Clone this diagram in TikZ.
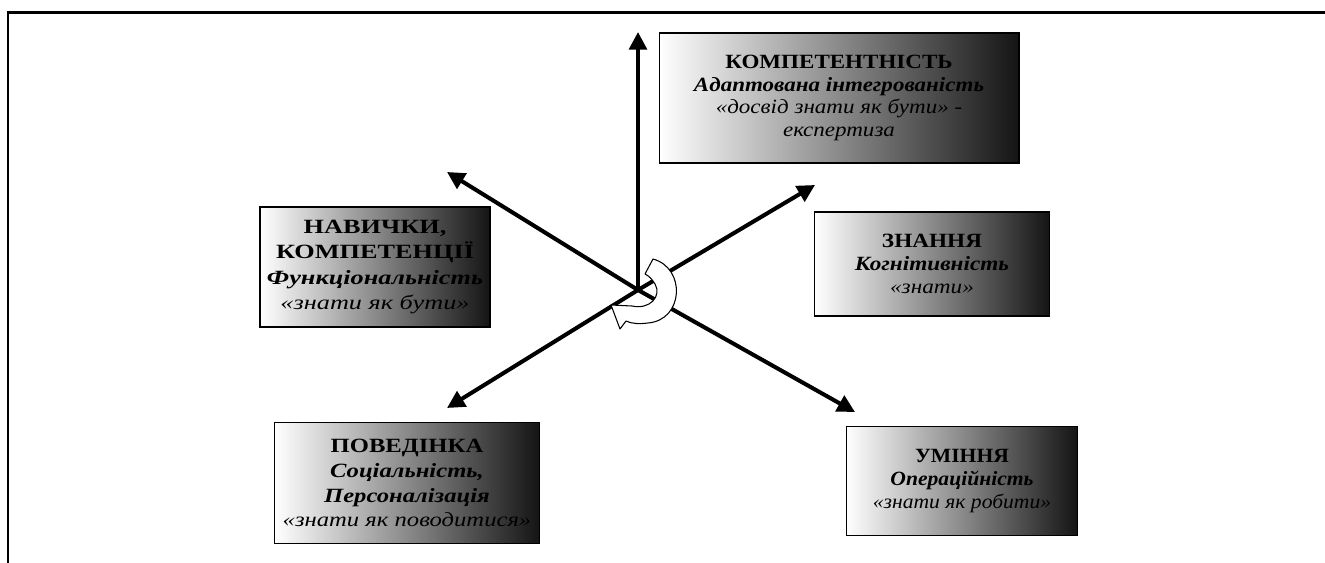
\documentclass[tikz,border=0pt]{standalone}
\usepackage{fontspec}
\setmainfont{Liberation Serif}
\usetikzlibrary{arrows.meta}
\newcommand\bxfont[2]{\fontsize{11.5}{#2}\selectfont\addfontfeatures{FakeStretch=#1}}
\begin{document}
\begin{tikzpicture}[x=0.02cm,y=-0.02cm,
		box/.style={draw,line width=0.6pt,left color=white,right color=black!92,align=center,inner sep=0pt},
		arr/.style={line width=2.3pt,-{Triangle[length=10pt,width=10pt]}}]
		\useasboundingbox (0,0) rectangle (1325,563);
		\draw[line width=1.7pt] (8,563) -- (8,12.5) -- (1325,12.5);
		% centre and arrow ends
		\coordinate (c) at (638,290);
		\coordinate (up) at (638,32);
		\coordinate (ul) at (447,172);
		\coordinate (ur) at (815,185);
		\coordinate (dl) at (447,408);
		\coordinate (dr) at (855,412);
		\foreach \t in {up,ul,ur,dl,dr}
			\draw[arr] (c) -- (\t);
		% boxes
		\node[box,font=\bxfont{1.14}{13},minimum width=7.2cm,minimum height=2.6cm] (komp) at (839,98)
			{\textbf{КОМПЕТЕНТНІСТЬ}\\\textbf{\textit{Адаптована інтегрованість}}\\\textit{«досвід знати як бути» -}\\\textit{експертиза}};
		\node[box,font=\bxfont{1.3}{14.5},minimum width=4.6cm,minimum height=2.4cm] (navy) at (375,267)
			{\textbf{НАВИЧКИ,}\\\textbf{КОМПЕТЕНЦІЇ}\\\textbf{\textit{Функціональність}}\\\textit{«знати як бути»}};
		\node[box,font=\bxfont{1.15}{13},minimum width=4.7cm,minimum height=2.08cm] (znan) at (932,264)
			{\textbf{ЗНАННЯ}\\\textbf{\textit{Когнітивність}}\\\textit{«знати»}};
		\node[box,font=\bxfont{1.22}{14.2},minimum width=5.3cm,minimum height=2.42cm] (pove) at (407,483)
			{\textbf{ПОВЕДІНКА}\\\textbf{\textit{Соціальність,}}\\\textbf{\textit{Персоналізація}}\\\textit{«знати як поводитися»}};
		\node[box,font=\bxfont{1.07}{13},minimum width=4.62cm,minimum height=2.18cm] (umin) at (962,481)
			{\textbf{УМІННЯ}\\\textbf{\textit{Операційність}}\\\textit{«знати як робити»}};
		% circular arrow
		\draw[fill=white,line width=0.6pt,line join=round] (645,274) -- (653,259)
			.. controls (686,268) and (684,320) .. (648,323)
			.. controls (640,324) and (632,324) .. (626,321) -- (620,329) -- (611,305) -- (632,306)
			.. controls (650,310) and (662,296) .. (655,284)
			.. controls (652,279) and (649,276) .. (645,274) -- cycle;
	\end{tikzpicture}
\end{document}
